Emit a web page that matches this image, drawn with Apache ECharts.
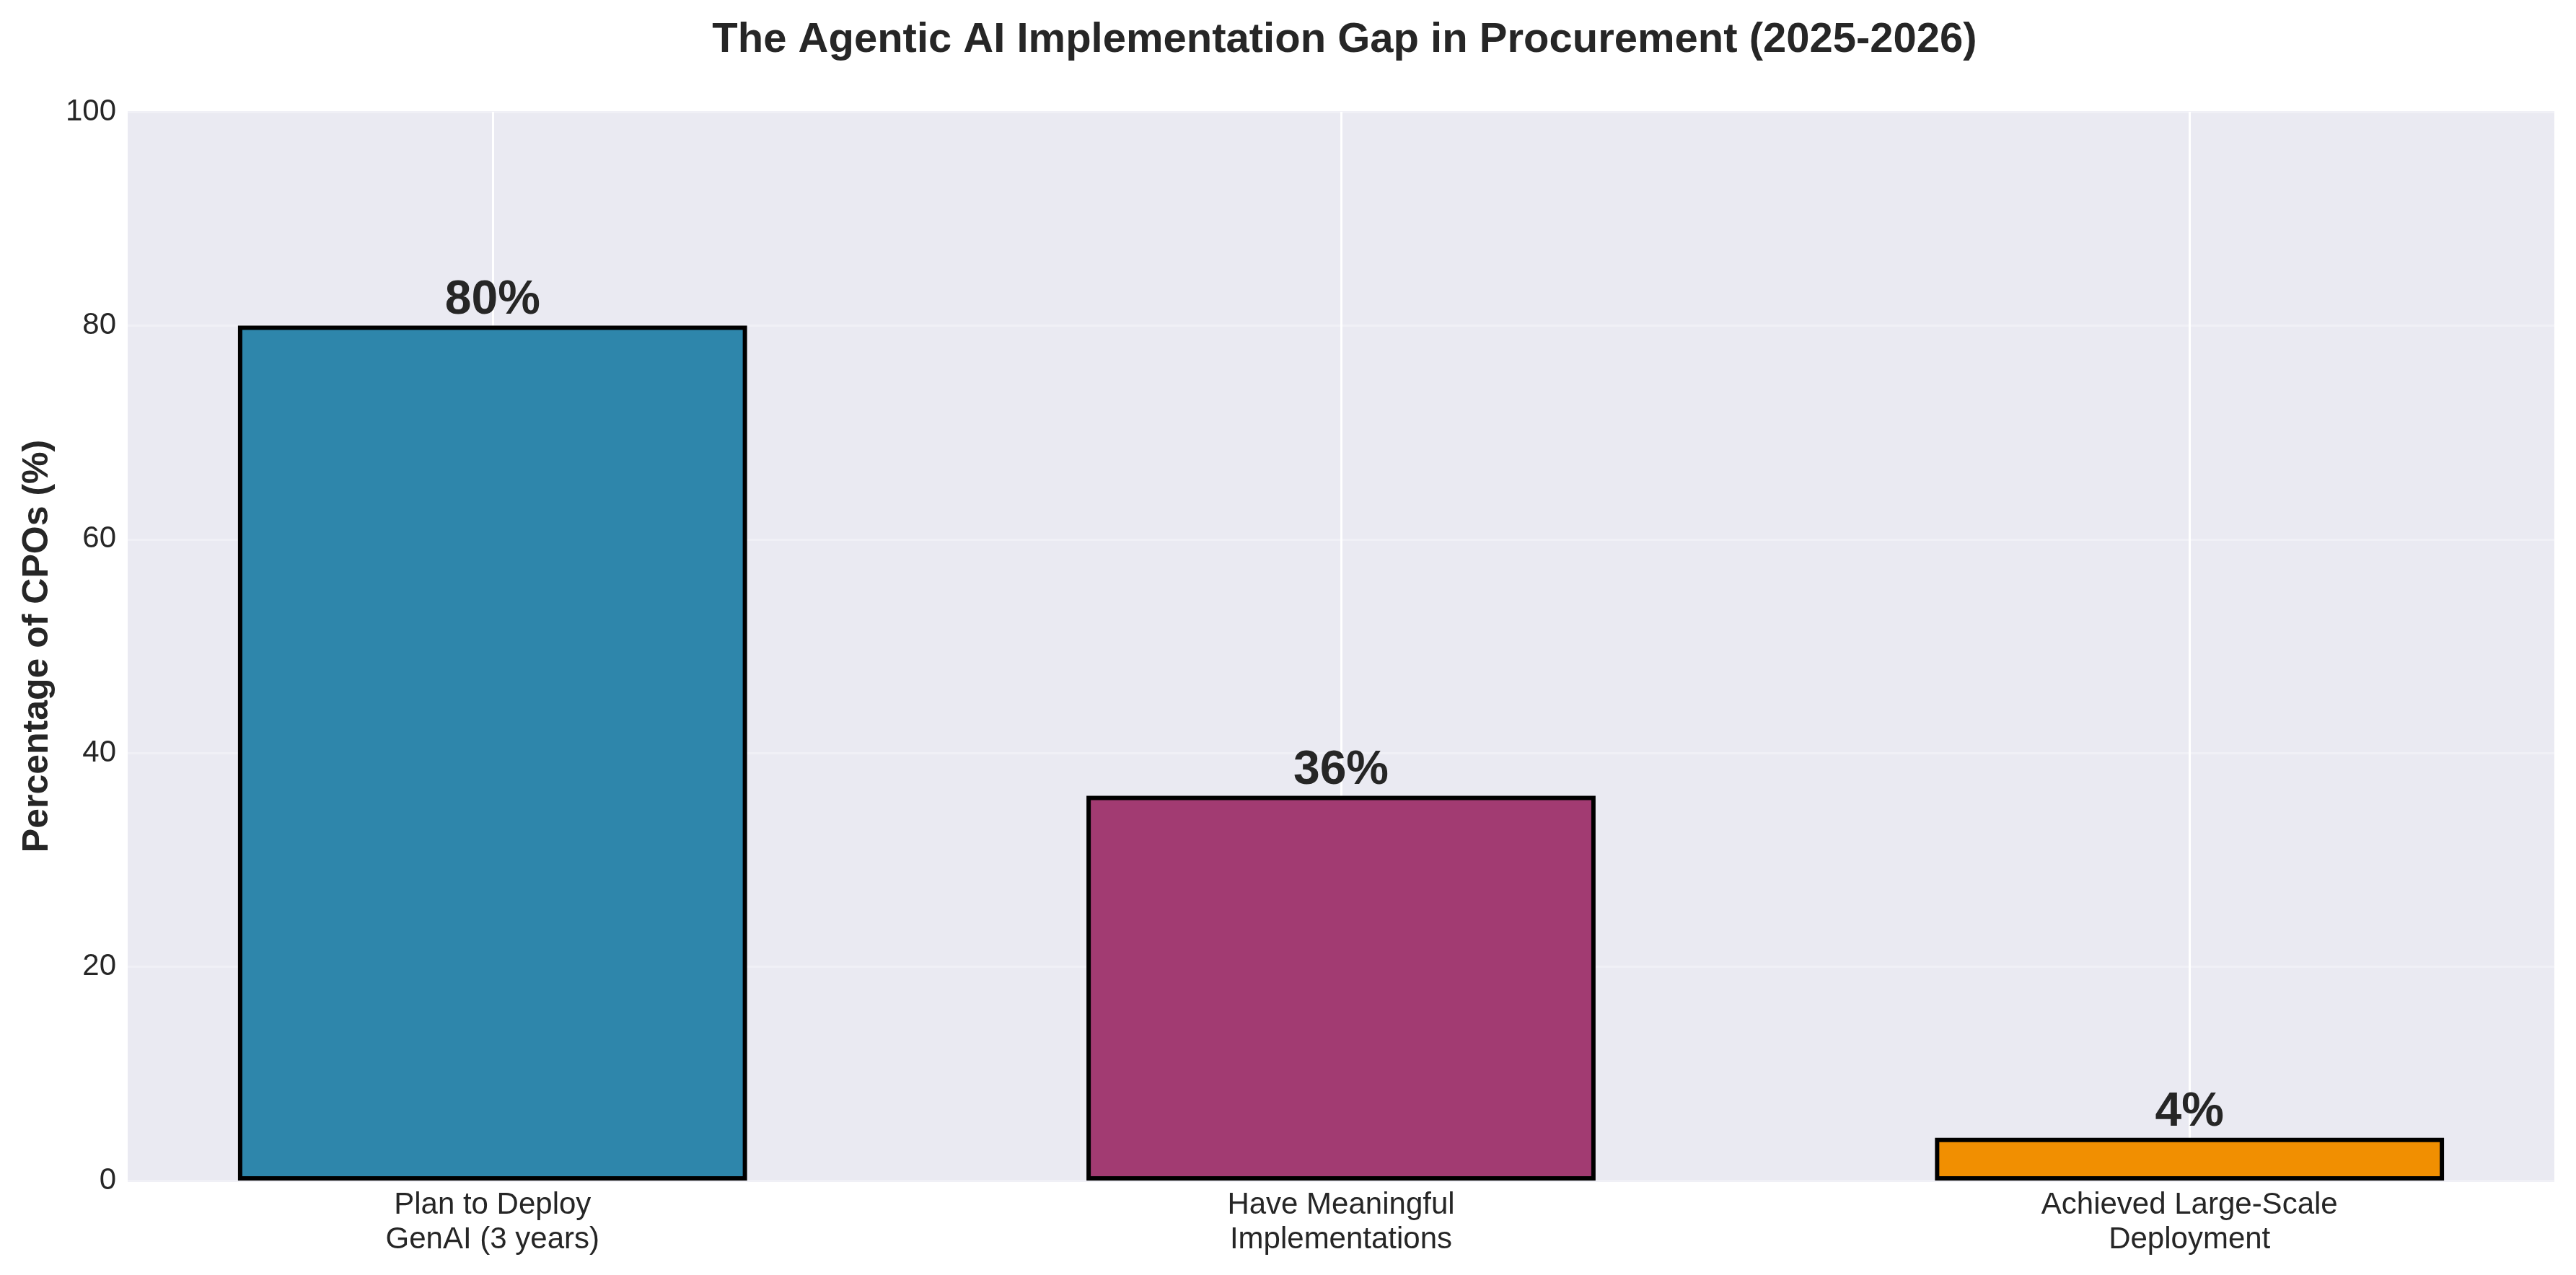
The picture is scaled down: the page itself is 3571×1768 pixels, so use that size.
<!DOCTYPE html>
<html>
<head>
<meta charset="utf-8">
<script src="https://cdn.jsdelivr.net/npm/echarts@6/dist/echarts.min.js"></script>
<style>
html,body{margin:0;padding:0;background:#fff;}
#chart{width:3571px;height:1768px;}
</style>
</head>
<body>
<div id="chart"></div>
<script>
const titleText = 'The Agentic AI Implementation Gap in Procurement (2025-2026)';
const categories = ['Plan to Deploy\nGenAI (3 years)', 'Have Meaningful\nImplementations', 'Achieved Large-Scale\nDeployment'];
const values = [80, 36, 4];
const barColors = ['#2E86AB', '#A23B72', '#F18F01'];
const yTicks = [0, 20, 40, 60, 80, 100];
const yAxisName = 'Percentage of CPOs (%)';

const FONT = '"Liberation Sans", Arial, sans-serif';
const TXT = '#262626';
const GRID = {left: 177, right: 30, top: 155, bottom: 131};
const W = 3571;

const chart = echarts.init(document.getElementById('chart'), null, {renderer: 'canvas'});
const idx = categories.map((c, i) => i);

chart.setOption({
  animation: false,
  backgroundColor: '#ffffff',
  title: {
    text: titleText,
    left: GRID.left + (W - GRID.left - GRID.right) / 2,
    textAlign: 'center',
    top: 22,
    textStyle: {fontFamily: FONT, fontSize: 58, fontWeight: 'bold', color: TXT}
  },
  grid: {
    left: GRID.left, right: GRID.right, top: GRID.top, bottom: GRID.bottom,
    show: true, backgroundColor: '#EAEAF2', borderWidth: 0
  },
  xAxis: {
    type: 'value',
    min: -0.43, max: 2.43,
    axisLine: {show: false},
    axisTick: {show: false},
    splitLine: {show: false},
    axisLabel: {
      customValues: idx,
      formatter: v => categories[Math.round(v)],
      fontFamily: FONT, fontSize: 42, color: TXT,
      lineHeight: 48, margin: 10
    }
  },
  yAxis: {
    type: 'value',
    min: yTicks[0], max: yTicks[yTicks.length - 1], interval: yTicks[1] - yTicks[0],
    name: yAxisName,
    nameLocation: 'middle',
    nameGap: 100,
    nameTextStyle: {fontFamily: FONT, fontSize: 50, fontWeight: 'bold', color: TXT},
    axisLine: {show: false},
    axisTick: {show: false},
    axisLabel: {fontFamily: FONT, fontSize: 42, color: TXT, margin: 16},
    splitLine: {show: true, lineStyle: {color: '#F0F0F6', width: 3}}
  },
  series: [{
    type: 'bar',
    barWidth: '60%',
    z: 3,
    data: values.map((v, i) => ({
      value: [i, v],
      itemStyle: {color: barColors[i], borderColor: '#000000', borderWidth: 6}
    })),
    label: {
      show: true,
      position: 'top',
      distance: 2,
      formatter: p => p.value[1] + '%',
      fontFamily: FONT, fontSize: 66, fontWeight: 'bold', color: TXT
    },
    markLine: {
      silent: true,
      z: 1,
      symbol: ['none', 'none'],
      label: {show: false},
      lineStyle: {color: '#ffffff', width: 3, type: 'solid'},
      data: idx.map(i => ({xAxis: i}))
    }
  }]
});
</script>
</body>
</html>
